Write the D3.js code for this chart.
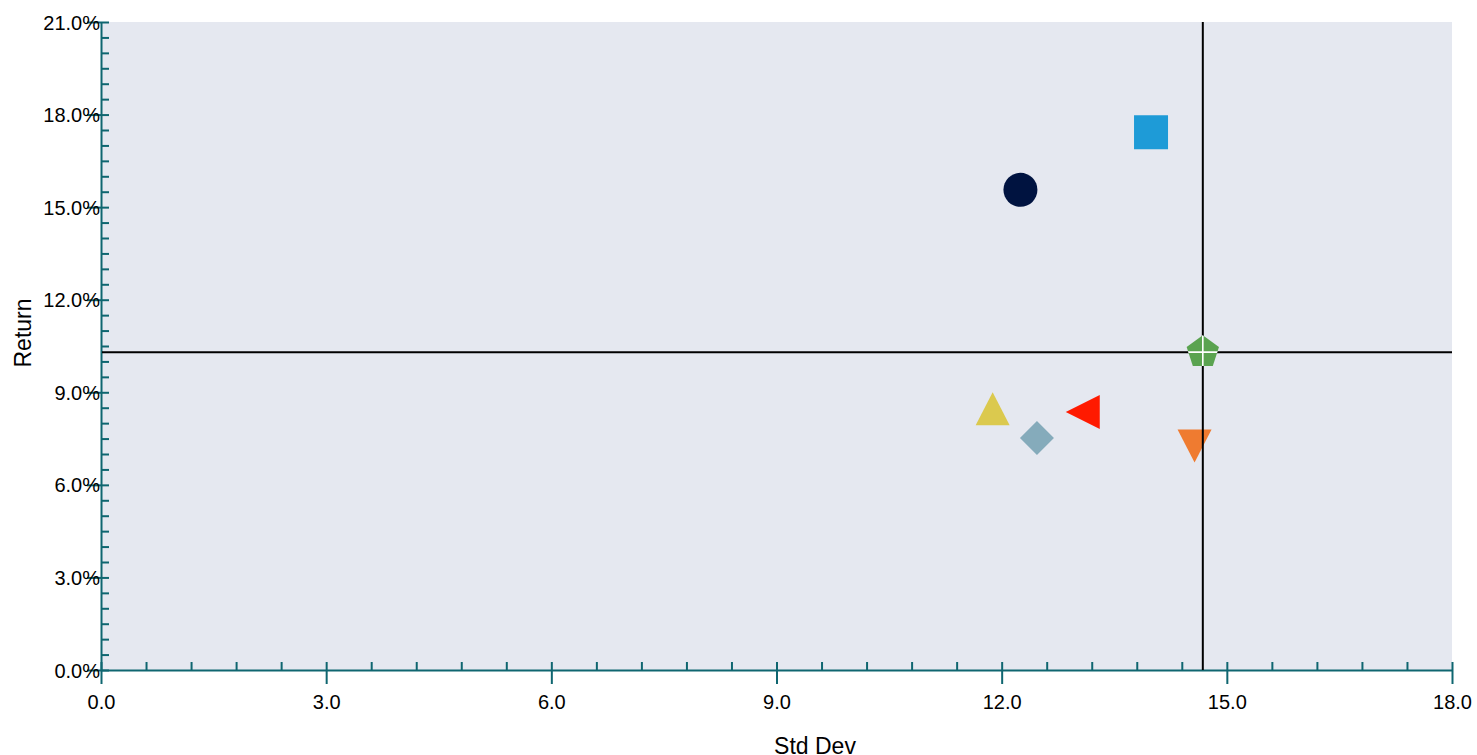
<!DOCTYPE html>
<html><head><meta charset="utf-8">
<script src="https://cdn.jsdelivr.net/npm/d3@7"></script>
<style>body{margin:0;background:#fff} svg{display:block} text{font-family:"Liberation Sans",Arial,sans-serif}</style>
</head><body><svg id="c" width="1477" height="755"></svg>
<script>
// ---- data ----
const names   = ["Fund A","Fund B","Benchmark","Fund C","Fund D","Fund E","Fund F"];
const stdDev  = [12.25, 13.99, 14.68, 11.88, 12.47, 13.08, 14.57];
const returns = [15.56, 17.43, 10.30, 8.47, 7.52, 8.36, 7.26];
const shapes  = ["circle","square","pentagon","triangleUp","diamond","triangleLeft","triangleDown"];
const colors  = ["#001340","#1e9bd7","#5aa350","#dbc94e","#85abbb","#ff1a00","#ef7b30"];
const xTicks  = [0,3,6,9,12,15,18];
const yTicks  = [0,3,6,9,12,15,18,21];
const xTitle = "Std Dev", yTitle = "Return";
const benchmarkIndex = 2;

// ---- layout ----
const W = 1477, H = 755;
const m = {left:101, top:22, right:25, bottom:85};
const iw = W - m.left - m.right, ih = H - m.top - m.bottom;
const axisColor = "#0f6670";

const svg = d3.select("#c");
const g = svg.append("g").attr("transform", `translate(${m.left},${m.top})`);

const x = d3.scaleLinear().domain([0,18]).range([0, iw]);
const y = d3.scaleLinear().domain([0,21]).range([ih, 0]);

g.append("rect").attr("x",0).attr("y",0).attr("width",iw).attr("height",ih).attr("fill","#e5e8f0");

// minor ticks (inward)
const xMinor = d3.range(0, 18.0001, 0.6).map(v => +v.toFixed(2));
const yMinor = d3.range(0, 21.0001, 0.5).map(v => +v.toFixed(2));

const xInner = g.append("g").attr("transform",`translate(0,${ih})`)
  .call(d3.axisBottom(x).tickValues(xMinor).tickSize(-8).tickFormat(""));
const yInner = g.append("g")
  .call(d3.axisLeft(y).tickValues(yMinor).tickSize(-8).tickFormat(""));

// major ticks (outward) with labels
const xAxis = g.append("g").attr("transform",`translate(0,${ih})`)
  .call(d3.axisBottom(x).tickValues(xTicks).tickSize(14).tickSizeOuter(0).tickPadding(11).tickFormat(d3.format(".1f")));
const yAxis = g.append("g")
  .call(d3.axisLeft(y).tickValues(yTicks).tickSize(14).tickSizeOuter(0).tickPadding(-13).tickFormat(d => d3.format(".1f")(d) + "%"));

[xInner, yInner, xAxis, yAxis].forEach(a => {
  a.selectAll("path.domain").attr("stroke", axisColor).attr("stroke-width", 2);
  a.selectAll(".tick line").attr("stroke", axisColor).attr("stroke-width", 2);
  a.selectAll(".tick text").attr("fill","#000").style("font-size","20px").attr("font-family",null);
});
xInner.select("path.domain").remove();
yInner.select("path.domain").remove();
yAxis.selectAll(".tick text").attr("dy","0.35em");

// shapes
const R = 17;
function shapePath(s){
  switch(s){
    case "circle": return d3.symbol(d3.symbolCircle, Math.PI*R*R)();
    case "square": return `M${-R},${-R}h${2*R}v${2*R}h${-2*R}Z`;
    case "triangleUp": return `M0,${-16.5}L${R},16.5L${-R},16.5Z`;
    case "triangleDown": return `M0,16.5L${R},-16.5L${-R},-16.5Z`;
    case "triangleLeft": return `M${-R},0L${R},${-R}L${R},${R}Z`;
    case "diamond": return `M0,${-R}L${R},0L0,${R}L${-R},0Z`;
    case "pentagon": {
      const pts = d3.range(5).map(k => { const a = (-90 + 72*k) * Math.PI/180; return [R*Math.cos(a), R*Math.sin(a)]; });
      return "M" + pts.map(p => p.join(",")).join("L") + "Z";
    }
  }
}
const data = names.map((n,i) => ({name:n, sd:stdDev[i], ret:returns[i], shape:shapes[i], color:colors[i]}));

const marks = g.append("g");
marks.selectAll("path").data(data.filter((d,i)=>i!==benchmarkIndex)).join("path")
  .attr("transform", d => `translate(${x(d.sd)},${y(d.ret)})`)
  .attr("d", d => shapePath(d.shape)).attr("fill", d => d.color);

// crosshair at benchmark
const b = data[benchmarkIndex];
g.append("line").attr("x1",x(b.sd)).attr("x2",x(b.sd)).attr("y1",0).attr("y2",ih).attr("stroke","#000").attr("stroke-width",2);
g.append("line").attr("x1",1).attr("x2",iw).attr("y1",y(b.ret)).attr("y2",y(b.ret)).attr("stroke","#000").attr("stroke-width",2);

// benchmark marker on top
g.append("path").attr("transform",`translate(${x(b.sd)},${y(b.ret)})`).attr("d",shapePath(b.shape)).attr("fill",b.color);
svg.append("defs").append("clipPath").attr("id","bclip").append("path")
  .attr("transform",`translate(${x(b.sd)},${y(b.ret)})`).attr("d",shapePath(b.shape));
const wg = g.append("g").attr("clip-path","url(#bclip)");
wg.append("line").attr("x1",x(b.sd)).attr("x2",x(b.sd)).attr("y1",0).attr("y2",ih).attr("stroke","#fff").attr("stroke-width",1.6);
wg.append("line").attr("x1",0).attr("x2",iw).attr("y1",y(b.ret)).attr("y2",y(b.ret)).attr("stroke","#fff").attr("stroke-width",1.6);

// axis titles
svg.append("text").attr("x",815).attr("y",754).attr("text-anchor","middle").style("font-size","23px").attr("fill","#000").text(xTitle);
svg.append("text").attr("transform","translate(31,333) rotate(-90)").attr("text-anchor","middle").style("font-size","23px").attr("fill","#000").text(yTitle);
</script></body></html>
